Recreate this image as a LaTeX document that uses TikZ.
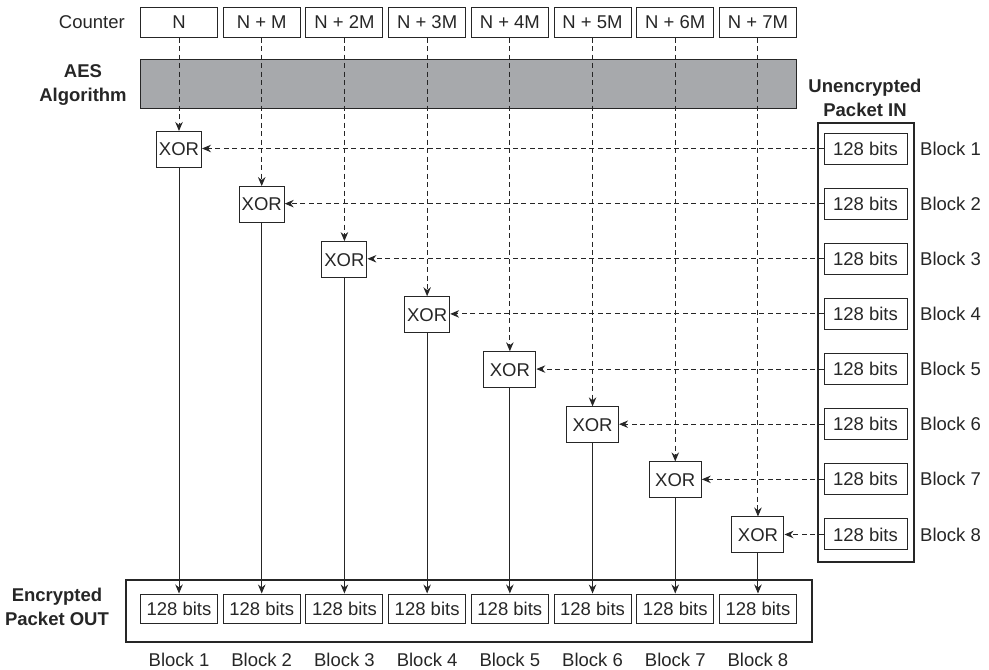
\documentclass[tikz,border=0pt]{standalone}
\usepackage{fontspec}
\setmainfont{Liberation Sans}
\usetikzlibrary{arrows.meta}
\definecolor{ink}{HTML}{262626}
\definecolor{aesgray}{HTML}{A7A9AC}
\begin{document}
\begin{tikzpicture}[x=1pt,y=-1pt,
  font=\fontsize{18.5}{23}\selectfont, text=ink,
  cbox/.style={draw=ink, line width=1pt, minimum width=77pt, minimum height=30pt, inner sep=0pt},
  xorbox/.style={draw=ink, line width=1pt, minimum height=36pt, inner sep=0pt},
  bitsbox/.style={draw=ink, line width=1pt, minimum width=83pt, minimum height=31pt, inner sep=0pt},
  outbox/.style={draw=ink, line width=1pt, minimum width=77pt, minimum height=29pt, inner sep=0pt},
  frame/.style={draw=ink, line width=1.8pt, inner sep=0pt},
  feed/.style={draw=ink, line width=1pt, dash pattern=on 5pt off 3.5pt, -{Stealth[length=9pt,width=7.5pt]}},
  flow/.style={draw=ink, line width=1pt, -{Stealth[length=9pt,width=7.5pt]}},
  head/.style={font=\fontsize{18.5}{24}\selectfont\bfseries, align=center, inner sep=0pt},
  plain/.style={inner sep=0pt}]
\useasboundingbox (0,0) rectangle (989,670);

% frames
\node[frame, minimum width=96pt, minimum height=439pt, anchor=north west] (inframe) at (817,122) {};
\node[frame, minimum width=686pt, minimum height=62pt, anchor=north west] (outframe) at (125,579) {};

% AES bar
\node[draw=ink, line width=1pt, fill=aesgray, minimum width=656pt, minimum height=49pt, inner sep=0pt, anchor=north west] (aes) at (140,59) {};

% labels
\node[plain, anchor=east] (counterlbl) at (125,22) {Counter};
\node[head] (aeslbl) at (83,85) {AES\\Algorithm};
\node[head] (inlbl) at (865,98) {Unencrypted\\Packet IN};
\node[head] (outlbl) at (57,607) {Encrypted\\Packet OUT};

% counters, XORs, blocks
\foreach \t [count=\i] in {N, N + M, N + 2M, N + 3M, N + 4M, N + 5M, N + 6M, N + 7M}{
  \pgfmathsetmacro\cx{179+82.71*(\i-1)}
  \pgfmathsetmacro\xy{149.5+55.07*(\i-1)}
  \pgfmathsetmacro\iy{148.5+55.14*(\i-1)}
  \pgfmathsetmacro\xw{\i<5 ? 45 : 52}
  \node[cbox] (c\i) at (\cx,22) {\t};
  \node[xorbox, minimum width=\xw pt] (x\i) at (\cx,\xy) {XOR};
  \node[bitsbox] (in\i) at (865.5,\iy) {128 bits};
  \node[plain, anchor=west] (rb\i) at (920,\iy) {Block \i};
  \node[outbox] (o\i) at (\cx,608.5) {128 bits};
  \node[plain] (bb\i) at (\cx,660) {Block \i};
}

% connectors
\foreach \i in {1,...,8}{
  \draw[feed] (c\i.south) -- (x\i.north);
  \draw[feed] (in\i.west) -- (in\i.west -| x\i.east);
  \draw[flow] (x\i.south) -- (o\i.north);
}
\end{tikzpicture}
\end{document}
